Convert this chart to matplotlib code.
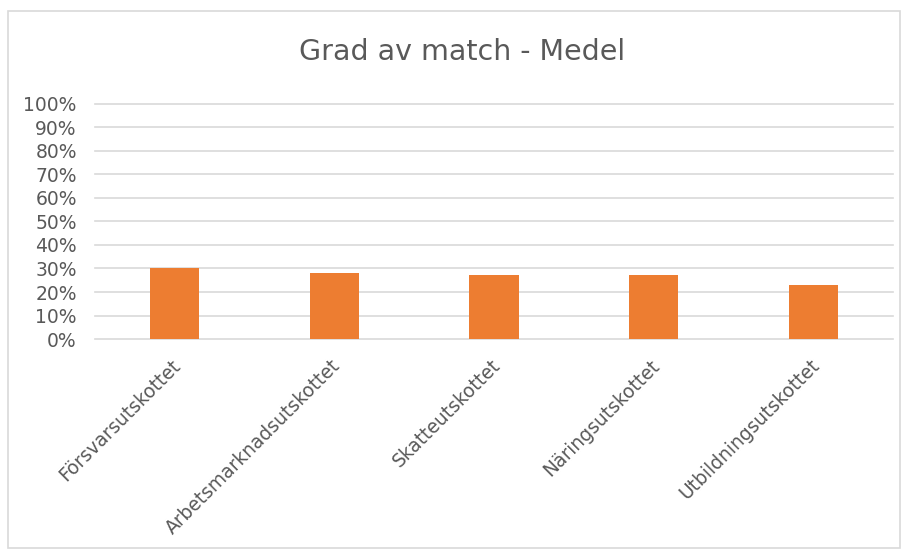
import matplotlib
matplotlib.use("Agg")
import matplotlib.pyplot as plt
from matplotlib.patches import Rectangle
from matplotlib.ticker import PercentFormatter
from matplotlib.transforms import ScaledTranslation

# data
utskott = ["Försvarsutskottet", "Arbetsmarknadsutskottet", "Skatteutskottet",
           "Näringsutskottet", "Utbildningsutskottet"]
match_medel = [0.303, 0.282, 0.273, 0.273, 0.230]
y_ticks = [i / 10 for i in range(11)]

grey_txt = "#595959"
grid_col = "#d9d9d9"

fig = plt.figure(figsize=(9.04, 5.5), dpi=100)
ax = fig.add_axes([0.105, 0.3836, 0.883, 0.4274])

ax.bar(range(len(utskott)), match_medel, width=0.31, color="#ED7D31", zorder=3)

ax.set_xlim(-0.5, len(utskott) - 0.5)
ax.set_ylim(0, 1)
ax.set_yticks(y_ticks)
ax.yaxis.set_major_formatter(PercentFormatter(1.0, decimals=0))
ax.grid(axis="y", color=grid_col, linewidth=1.2, zorder=0)
for gl in ax.get_ygridlines():
    gl.set_clip_on(False)
ax.set_axisbelow(True)
for s in ax.spines.values():
    s.set_visible(False)
ax.tick_params(length=0, colors=grey_txt)
ax.tick_params(axis="y", labelsize=13.5, pad=13)

ax.set_xticks(range(len(utskott)))
ax.set_xticklabels(utskott, rotation=45, ha="right", va="center",
                   rotation_mode="anchor", fontsize=13.4, color=grey_txt)
ax.tick_params(axis="x", pad=17)
shift = ScaledTranslation(3 / 100, 0, fig.dpi_scale_trans)
for lbl in ax.get_xticklabels():
    lbl.set_transform(lbl.get_transform() + shift)

fig.text(0.511, 0.905, "Grad av match - Medel", ha="center", va="center",
         fontsize=20.5, color=grey_txt)

# chart border
fig.patches.append(Rectangle((0.009, 0.004), 0.987, 0.976, transform=fig.transFigure,
                             fill=False, edgecolor=grid_col, linewidth=1.2))

fig.savefig("out.png", dpi=100)
